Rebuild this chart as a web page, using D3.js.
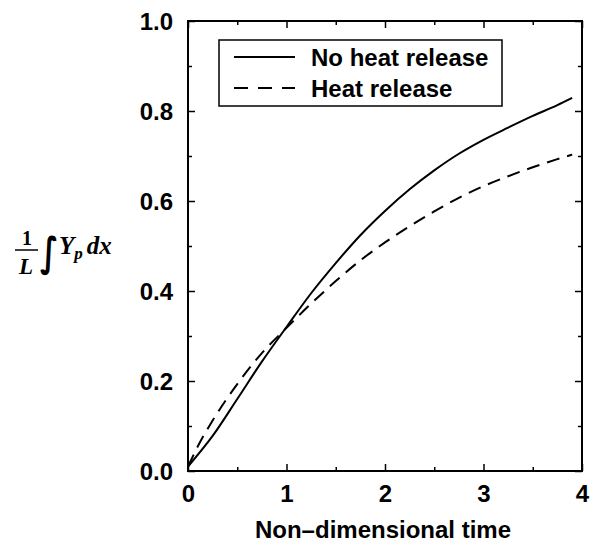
<!DOCTYPE html>
<html><head><meta charset="utf-8">
<script src="https://cdn.jsdelivr.net/npm/d3@7"></script>
<style>
body{margin:0;background:#fff}
</style></head>
<body>
<svg id="c" width="592" height="542"></svg>
<script>
const seriesNames = ["No heat release", "Heat release"];
const noHeatX = [0, 0.25, 0.5, 0.75, 1.0, 1.25, 1.5, 1.75, 2.0, 2.25, 2.5, 2.75, 3.0, 3.25, 3.5, 3.75, 3.9];
const noHeatY = [0.01, 0.078, 0.16, 0.243, 0.32, 0.395, 0.462, 0.524, 0.578, 0.626, 0.668, 0.705, 0.736, 0.763, 0.789, 0.813, 0.829];
const heatX = [0, 0.1, 0.25, 0.5, 0.75, 1.0, 1.25, 1.5, 1.75, 2.0, 2.25, 2.5, 2.75, 3.0, 3.25, 3.5, 3.75, 3.9];
const heatY = [0.01, 0.055, 0.112, 0.193, 0.262, 0.318, 0.372, 0.422, 0.468, 0.508, 0.544, 0.577, 0.607, 0.633, 0.655, 0.675, 0.693, 0.703];
const xTicks = [0, 1, 2, 3, 4];
const xMinor = [0.5, 1.5, 2.5, 3.5];
const yTicks = [0, 0.2, 0.4, 0.6, 0.8, 1.0];
const yMinor = [0.1, 0.3, 0.5, 0.7, 0.9];
const xLabel = "Non\u2013dimensional time";

const SANS = '"Liberation Sans",Arial,Helvetica,sans-serif';
const SERIF = '"Liberation Serif","Times New Roman",serif';
const FS = 24;

const svg = d3.select("#c");
const L = 188, R = 582, T = 21, B = 471;
const x = d3.scaleLinear().domain([0, 4]).range([L, R]);
const y = d3.scaleLinear().domain([0, 1]).range([B, T]);

svg.append("rect").attr("x", L).attr("y", T).attr("width", R - L).attr("height", B - T)
  .attr("fill", "none").attr("stroke", "#000").attr("stroke-width", 2);

function axis(gen, tr, len) {
  const g = svg.append("g").attr("transform", tr).call(gen.tickSizeInner(len).tickSizeOuter(0));
  g.select(".domain").remove();
  g.selectAll("line").attr("stroke", "#000").attr("stroke-width", 1.5);
  return g;
}
const gxb = axis(d3.axisBottom(x).tickValues(xTicks).tickFormat(d3.format("d")), `translate(0,${B})`, -7);
gxb.selectAll("text").attr("y", 31).attr("dy", null).style("font-family", SANS).style("font-size", FS + "px")
  .style("font-weight", "bold").attr("fill", "#000");
const gyl = axis(d3.axisLeft(y).tickValues(yTicks).tickFormat(d3.format(".1f")), `translate(${L},0)`, -7);
gyl.selectAll("text").attr("x", -15).attr("dy", "0.36em").style("font-family", SANS).style("font-size", FS + "px")
  .style("font-weight", "bold").attr("fill", "#000");
axis(d3.axisTop(x).tickValues(xTicks).tickFormat(""), `translate(0,${T})`, -7);
axis(d3.axisRight(y).tickValues(yTicks).tickFormat(""), `translate(${R},0)`, -7);
axis(d3.axisBottom(x).tickValues(xMinor).tickFormat(""), `translate(0,${B})`, -4);
axis(d3.axisTop(x).tickValues(xMinor).tickFormat(""), `translate(0,${T})`, -4);
axis(d3.axisLeft(y).tickValues(yMinor).tickFormat(""), `translate(${L},0)`, -4);
axis(d3.axisRight(y).tickValues(yMinor).tickFormat(""), `translate(${R},0)`, -4);

const line = d3.line().x(d => x(d[0])).y(d => y(d[1])).curve(d3.curveMonotoneX);
svg.append("path").datum(d3.zip(noHeatX, noHeatY)).attr("d", line)
  .attr("fill", "none").attr("stroke", "#000").attr("stroke-width", 2);
svg.append("path").datum(d3.zip(heatX, heatY)).attr("d", line)
  .attr("fill", "none").attr("stroke", "#000").attr("stroke-width", 2).attr("stroke-dasharray", "13,8");

const lg = svg.append("g");
lg.append("rect").attr("x", 219).attr("y", 40).attr("width", 283).attr("height", 66)
  .attr("fill", "#fff").attr("stroke", "#000").attr("stroke-width", 1.5);
[0, 1].forEach(i => {
  const yy = 57 + i * 31;
  lg.append("line").attr("x1", 234).attr("x2", 295).attr("y1", yy).attr("y2", yy)
    .attr("stroke", "#000").attr("stroke-width", 2).attr("stroke-dasharray", i ? "14,10" : null);
  lg.append("text").attr("x", 311).attr("y", yy + 8.5).style("font-family", SANS).style("font-size", FS + "px")
    .style("font-weight", "bold").text(seriesNames[i]);
});

svg.append("text").attr("x", (L + R) / 2 - 2).attr("y", 538).attr("text-anchor", "middle")
  .style("font-family", SANS).style("font-size", FS + "px").style("font-weight", "bold").text(xLabel);

// y label: (1/L) ∫ Y_p dx
const yl = svg.append("g");
yl.append("text").attr("x", 27).attr("y", 245).attr("text-anchor", "middle")
  .style("font-family", SERIF).style("font-size", "20px").style("font-weight", "bold").text("1");
yl.append("line").attr("x1", 15).attr("x2", 38).attr("y1", 250).attr("y2", 250).attr("stroke", "#000").attr("stroke-width", 1.5);
yl.append("text").attr("x", 26).attr("y", 274).attr("text-anchor", "middle")
  .style("font-family", SERIF).style("font-size", "23px").style("font-style", "italic").style("font-weight", "bold").text("L");
yl.append("text").attr("transform", "translate(40,266) scale(1,1.35)")
  .style("font-family", '"DejaVu Sans",sans-serif').style("font-size", "30px").style("font-weight", "bold").text("\u222B");
const t = yl.append("text").attr("x", 59).attr("y", 254)
  .style("font-family", SERIF).style("font-size", "25px").style("font-style", "italic").style("font-weight", "bold");
t.append("tspan").text("Y");
t.append("tspan").attr("dy", 5).style("font-size", "17px").text("p");
t.append("tspan").attr("dy", -5).attr("dx", 4).text("dx");
</script>
</body></html>
